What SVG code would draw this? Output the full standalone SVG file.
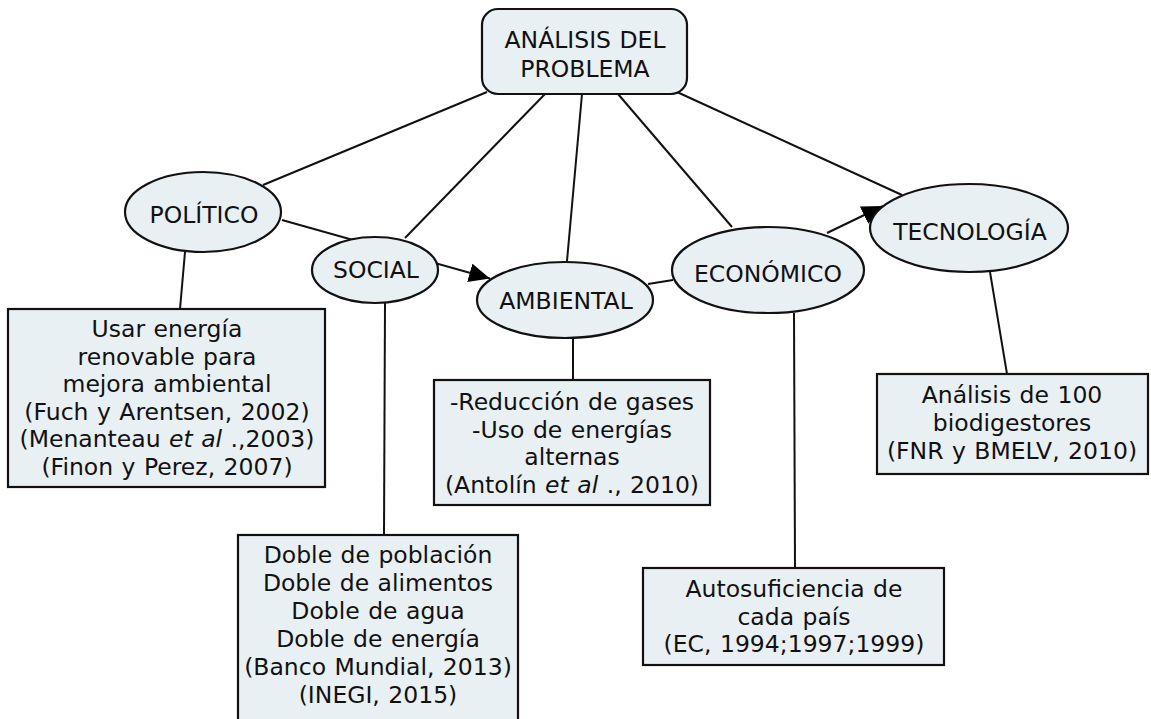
<svg xmlns="http://www.w3.org/2000/svg" width="1151" height="719" viewBox="0 0 1151 719">
<style>
.n{fill:#e9f0f4;stroke:#111;stroke-width:2.2}
.c{stroke:#111;stroke-width:2;fill:none}
text{font-family:"DejaVu Sans","Verdana",sans-serif;font-size:23.5px;word-spacing:1px;fill:#111;text-anchor:middle}
.i{font-style:italic}
</style>
<defs>
<marker id="ah" markerUnits="userSpaceOnUse" markerWidth="22" markerHeight="20" refX="21" refY="9.5" orient="auto">
<path d="M0,0 L21,9.5 L0,19 z" fill="#000"/>
</marker>
</defs>
<rect width="1151" height="719" fill="#fff"/>
<g id="connectors">
<line class="c" x1="487" y1="92" x2="263" y2="185"/>
<line class="c" x1="545" y1="94" x2="405" y2="238"/>
<line class="c" x1="582" y1="94" x2="567" y2="261"/>
<line class="c" x1="618" y1="94" x2="732" y2="227"/>
<line class="c" x1="677" y1="92" x2="902" y2="195"/>
<line class="c" x1="282" y1="220" x2="490" y2="278.5" marker-end="url(#ah)"/>
<line class="c" x1="648" y1="284" x2="673" y2="280"/>
<line class="c" x1="827" y1="233" x2="883" y2="206" marker-end="url(#ah)"/>
<line class="c" x1="185" y1="252" x2="180" y2="309"/>
<line class="c" x1="385" y1="303" x2="384" y2="535"/>
<line class="c" x1="573" y1="338" x2="573" y2="380"/>
<line class="c" x1="794" y1="313" x2="795" y2="568"/>
<line class="c" x1="990" y1="272" x2="1007" y2="374"/>
</g>
<g id="analisis">
<rect class="n" x="482" y="9" width="205" height="85" rx="16"/>
<text x="585" y="48">ANÁLISIS DEL</text>
<text x="585" y="77">PROBLEMA</text>
</g>
<g id="politico">
<ellipse class="n" cx="203" cy="212" rx="78" ry="40"/>
<text x="204" y="223">POLÍTICO</text>
</g>
<g id="social">
<ellipse class="n" cx="375" cy="270" rx="63" ry="33"/>
<text x="376" y="278">SOCIAL</text>
</g>
<g id="ambiental">
<ellipse class="n" cx="565" cy="300" rx="88" ry="38"/>
<text x="566" y="309">AMBIENTAL</text>
</g>
<g id="economico">
<ellipse class="n" cx="768" cy="270" rx="96" ry="43"/>
<text x="768" y="282">ECONÓMICO</text>
</g>
<g id="tecnologia">
<ellipse class="n" cx="969" cy="228" rx="99" ry="44"/>
<text x="970" y="240">TECNOLOGÍA</text>
</g>
<g id="box-politico">
<rect class="n" x="8" y="309" width="317" height="178"/>
<text x="167" y="337">Usar energía</text>
<text x="167" y="364.5">renovable para</text>
<text x="167" y="392">mejora ambiental</text>
<text x="167" y="419.5">(Fuch y Arentsen, 2002)</text>
<text x="167" y="447">(Menanteau <tspan class="i">et al</tspan> .,2003)</text>
<text x="167" y="474.5">(Finon y Perez, 2007)</text>
</g>
<g id="box-social">
<rect class="n" x="238" y="535" width="280" height="190"/>
<text x="378" y="563">Doble de población</text>
<text x="378" y="591">Doble de alimentos</text>
<text x="378" y="619">Doble de agua</text>
<text x="378" y="647">Doble de energía</text>
<text x="378" y="675">(Banco Mundial, 2013)</text>
<text x="378" y="703">(INEGI, 2015)</text>
</g>
<g id="box-ambiental">
<rect class="n" x="434" y="380" width="276" height="125"/>
<text x="572" y="410">-Reducción de gases</text>
<text x="572" y="437.5">-Uso de energías</text>
<text x="572" y="465">alternas</text>
<text x="572" y="492.5">(Antolín <tspan class="i">et al</tspan> ., 2010)</text>
</g>
<g id="box-economico">
<rect class="n" x="643" y="568" width="301" height="97"/>
<text x="794" y="597">Autosuficiencia de</text>
<text x="794" y="625">cada país</text>
<text x="794" y="652">(EC, 1994;1997;1999)</text>
</g>
<g id="box-tecnologia">
<rect class="n" x="877" y="374" width="271" height="100"/>
<text x="1012" y="403">Análisis de 100</text>
<text x="1012" y="431">biodigestores</text>
<text x="1012" y="459">(FNR y BMELV, 2010)</text>
</g>
</svg>
